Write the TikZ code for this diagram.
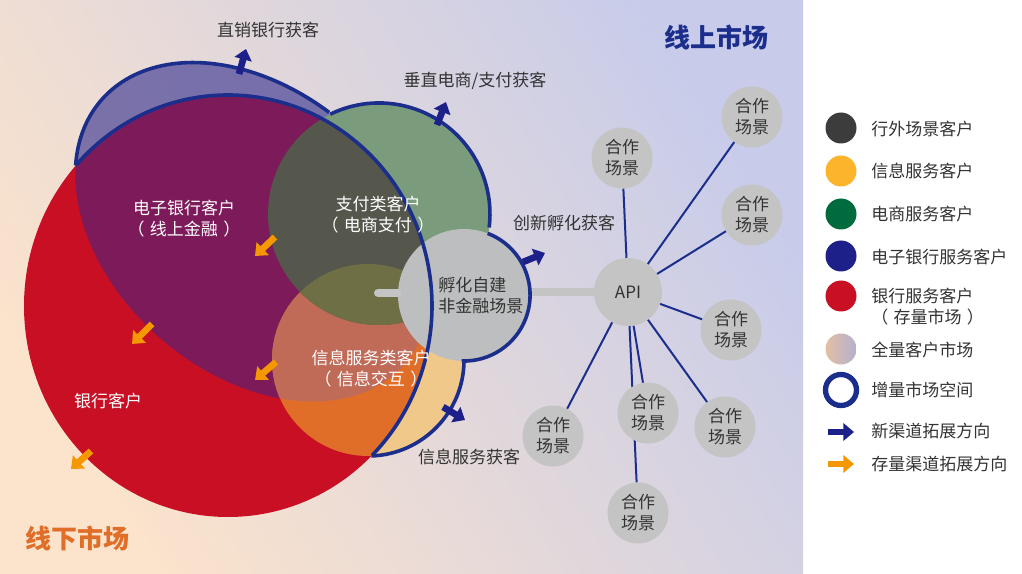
\documentclass[tikz,border=0pt]{standalone}
\usepackage{fontspec}
\setmainfont{Noto Sans CJK SC}
\usetikzlibrary{arrows.meta}
\definecolor{bgwarm}{HTML}{FBE3CC}
\definecolor{bgcool}{HTML}{C8CCEA}
\definecolor{bankred}{HTML}{C80F24}
\definecolor{ebankblue}{HTML}{1E1A86}
\definecolor{edgeblue}{HTML}{1C2E8C}
\definecolor{ebankpurple}{HTML}{7D1A5A}
\definecolor{paygreen}{HTML}{7B9C7C}
\definecolor{paydark}{HTML}{55564C}
\definecolor{infopale}{HTML}{F0C88A}
\definecolor{infoorange}{HTML}{E06E28}
\definecolor{infobrown}{HTML}{C06A58}
\definecolor{infoolive}{HTML}{6E6F45}
\definecolor{scenegrey}{HTML}{C4C4C4}
\definecolor{hatchgrey}{HTML}{BDBEBF}
\definecolor{arrowblue}{HTML}{1D2088}
\definecolor{arroworange}{HTML}{F39800}
\definecolor{inktext}{HTML}{333333}
\definecolor{keydark}{HTML}{3C3C3C}
\definecolor{keyyellow}{HTML}{FBB42C}
\definecolor{keygreen}{HTML}{006B3C}
\definecolor{keywarm}{HTML}{E3BFA3}
\definecolor{keycool}{HTML}{B4B0CF}
\newcommand{\bankdisc}{(228,306) ellipse [x radius=204, y radius=211]}
\newcommand{\ebankdisc}{(253,232) ellipse [x radius=201, y radius=141, rotate=-41]}
\newcommand{\paydisc}{(379,214) circle [radius=111]}
\newcommand{\infodisc}{(368,360) circle [radius=96]}
\tikzset{
	outline/.style={draw=edgeblue, line width=2.7pt},
	spoke/.style={draw=edgeblue, line width=1.5pt},
	greybar/.style={draw=scenegrey, line width=6pt},
	newarrow/.style={draw=arrowblue, line width=5pt, -{Triangle[length=8pt, width=13pt]}},
	oldarrow/.style={draw=arroworange, line width=5pt, -{Triangle[length=8pt, width=13pt]}},
	scene/.style={circle, fill=scenegrey, text=inktext, inner sep=0pt, minimum size=45.75pt, align=center, font=\fontsize{12.75pt}{15.75pt}\selectfont},
	dark/.style={text=inktext, inner sep=0pt, align=center, font=\fontsize{12.75pt}{15.75pt}\selectfont},
	light/.style={text=white, inner sep=0pt, align=center, font=\fontsize{12.75pt}{15.75pt}\selectfont},
	legend/.style={text=inktext, inner sep=0pt, anchor=west, align=left, font=\fontsize{12.75pt}{15.75pt}\selectfont},
	swatch/.style={circle, inner sep=0pt, minimum size=23.25pt}
}
\begin{document}
\begin{tikzpicture}[x=0.75pt, y=-0.75pt]
	\useasboundingbox (0,0) rectangle (1022,574);
	\fill[white] (0,0) rectangle (1022,574);
	\shade[left color=bgwarm, right color=bgcool, shading angle=122] (0,0) rectangle (803,574);

	% Overlapping customer groups:
	\fill[ebankblue, opacity=0.55] \ebankdisc;
	\fill[paygreen] \paydisc;
	\fill[infopale] \infodisc;
	\fill[bankred] \bankdisc;
	\begin{scope}
		\clip \bankdisc;
		\fill[ebankpurple] \ebankdisc;
		\fill[infoorange] \infodisc;
		\begin{scope}
			\clip \ebankdisc;
			\fill[infobrown] \infodisc;
		\end{scope}
		\fill[paydark] \paydisc;
		\begin{scope}
			\clip \paydisc;
			\fill[infoolive] \infodisc;
		\end{scope}
	\end{scope}

	% Incubated scene and its bars:
	\coordinate (stub) at (378,293);
	\node[circle, fill=hatchgrey, inner sep=0pt, minimum size=99pt] (hatch) at (464,295) {};
	\node[circle, fill=scenegrey, text=inktext, inner sep=0pt, minimum size=51pt, font=\fontsize{12.75pt}{15.75pt}\selectfont] (api) at (628,292) {API};
	\draw[greybar, line cap=round] (stub) -- (stub -| hatch.west);
	\draw[greybar] (hatch.east |- api) -- (api);

	% Thick outlines:
	\draw[outline] (76.4,164.8) arc[start angle=-138, end angle=45, x radius=204, y radius=211];
	\draw[outline, rotate around={-41:(253,232)}] (75.5,298.2) arc[start angle=152, end angle=264, x radius=201, y radius=141];
	\draw[outline] (330.3,114.2) arc[start angle=-116, end angle=7, radius=111];
	\draw[outline] (487.7,233.4) arc[start angle=-69, end angle=92, radius=66];
	\draw[outline] (464,361.7) arc[start angle=1, end angle=88, radius=96];

	% Partner scenes around the API:
	\node[scene] (sceneA) at (752,117) {合作\\场景};
	\node[scene] (sceneB) at (622,158) {合作\\场景};
	\node[scene] (sceneC) at (752,215) {合作\\场景};
	\node[scene] (sceneD) at (731,330) {合作\\场景};
	\node[scene] (sceneE) at (725,427) {合作\\场景};
	\node[scene] (sceneF) at (553,436) {合作\\场景};
	\node[scene] (sceneG) at (638,513) {合作\\场景};
	\draw[spoke] (api) -- (sceneA);
	\draw[spoke] (api) -- (sceneB);
	\draw[spoke] (api) -- (sceneC);
	\draw[spoke] (api) -- (sceneD);
	\draw[spoke] (api) -- (sceneE);
	\draw[spoke] (api) -- (sceneF);
	\draw[spoke] (api) -- (sceneG);
	\node[scene] (sceneH) at (648,413) {合作\\场景};
	\draw[spoke] (api) -- (sceneH);

	% Channel arrows:
	\coordinate (directA) at (239,74); \coordinate (directB) at (246,49);
	\coordinate (payA) at (437,125); \coordinate (payB) at (446,102);
	\coordinate (hatchA) at (523,262); \coordinate (hatchB) at (545,253);
	\coordinate (infoA) at (443,407); \coordinate (infoB) at (465,420);
	\draw[newarrow] (directA) -- (directB);
	\draw[newarrow] (payA) -- (payB);
	\draw[newarrow] (hatchA) -- (hatchB);
	\draw[newarrow] (infoA) -- (infoB);
	\coordinate (stockA) at (275,237); \coordinate (stockB) at (255,256);
	\coordinate (stockC) at (152,324); \coordinate (stockD) at (132,344);
	\coordinate (stockE) at (276,362); \coordinate (stockF) at (255,380);
	\coordinate (stockG) at (91,451); \coordinate (stockH) at (71,469);
	\draw[oldarrow] (stockA) -- (stockB);
	\draw[oldarrow] (stockC) -- (stockD);
	\draw[oldarrow] (stockE) -- (stockF);
	\draw[oldarrow] (stockG) -- (stockH);

	% Labels:
	\node[dark] (directlabel) at (268,30) {直销银行获客};
	\node[dark] (paylabel) at (475,81) {垂直电商/支付获客};
	\node[dark] (hatchgain) at (564,223) {创新孵化获客};
	\node[dark] (infogain) at (469,457) {信息服务获客};
	\node[light] (ebanklabel) at (184,219) {电子银行客户\\（\hspace{4pt}线上金融\hspace{4pt}）};
	\node[light] (paymentlabel) at (378,215) {支付类客户\\（\hspace{4pt}电商支付\hspace{4pt}）};
	\node[light] (infolabel) at (371,369) {信息服务类客户\\（\hspace{4pt}信息交互\hspace{4pt}）};
	\node[light] (banklabel) at (108,401) {银行客户};
	\node[dark, anchor=west, align=left] (hatchlabel) at (438,296) {孵化自建\\非金融场景};
	\node[text=edgeblue, inner sep=0pt, font=\fontsize{19.5pt}{22pt}\selectfont\bfseries] (onlinelabel) at (716,37) {线上市场};
	\node[text=infoorange, inner sep=0pt, font=\fontsize{19.5pt}{22pt}\selectfont\bfseries] (offlinelabel) at (78,538) {线下市场};

	% Legend:
	\node[swatch, fill=keydark] (keyA) at (841,128) {};
	\node[swatch, fill=keyyellow] (keyB) at (841,171) {};
	\node[swatch, fill=keygreen] (keyC) at (841,214) {};
	\node[swatch, fill=arrowblue] (keyD) at (841,256) {};
	\node[swatch, fill=bankred] (keyE) at (841,296) {};
	\node[swatch, left color=keywarm, right color=keycool] (keyF) at (841,349) {};
	\node[circle, draw=edgeblue, line width=4pt, inner sep=0pt, minimum size=23.25pt] (keyG) at (841,390) {};
	\coordinate (keyHa) at (828,432); \coordinate (keyHb) at (854,432);
	\coordinate (keyIa) at (828,464); \coordinate (keyIb) at (854,464);
	\draw[newarrow] (keyHa) -- (keyHb);
	\draw[oldarrow] (keyIa) -- (keyIb);
	\node[legend] (textA) at (871,129) {行外场景客户};
	\node[legend] (textB) at (871,171) {信息服务客户};
	\node[legend] (textC) at (871,214) {电商服务客户};
	\node[legend] (textD) at (871,257) {电子银行服务客户};
	\node[legend] (textE) at (871,307) {银行服务客户\\（\hspace{4pt}存量市场\hspace{4pt}）};
	\node[legend] (textF) at (871,350) {全量客户市场};
	\node[legend] (textG) at (871,390) {增量市场空间};
	\node[legend] (textH) at (871,431) {新渠道拓展方向};
	\node[legend] (textI) at (871,464) {存量渠道拓展方向};
\end{tikzpicture}
\end{document}
